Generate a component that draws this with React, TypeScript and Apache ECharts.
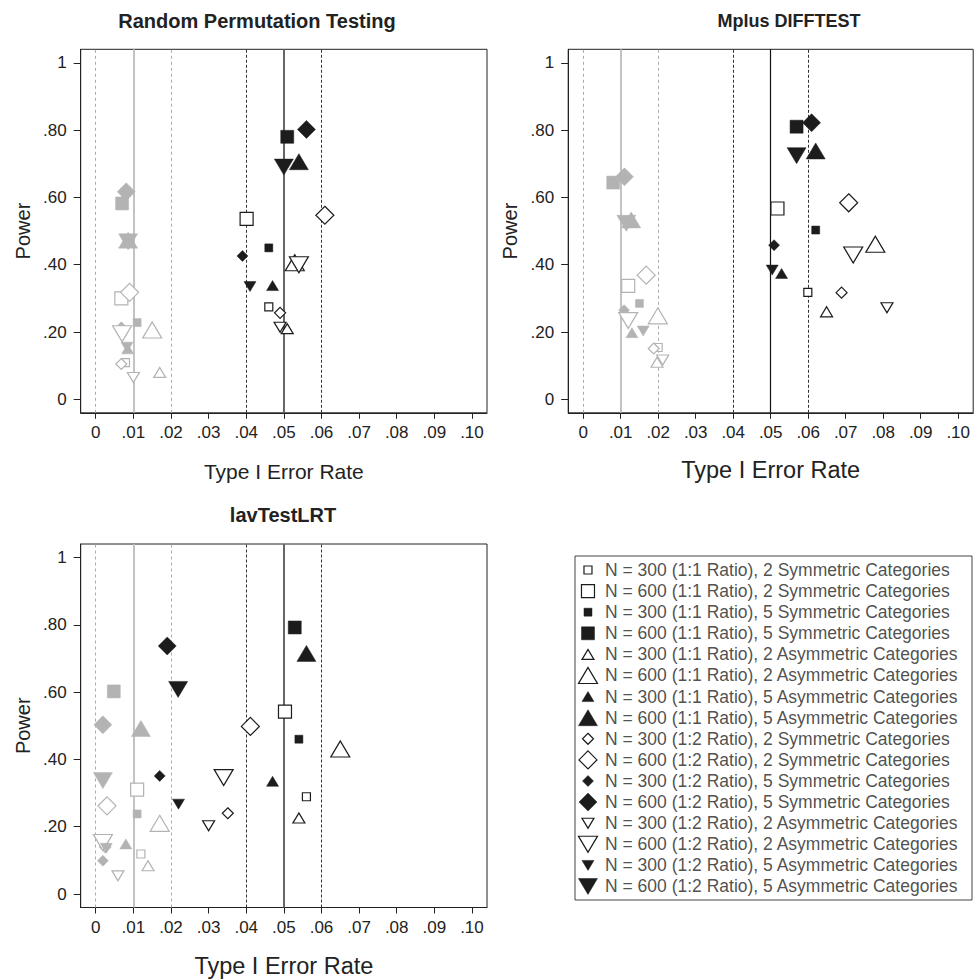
import React, { useEffect, useRef } from 'react';
import * as echarts from 'echarts';

const FONT = '"Liberation Sans", Arial, Helvetica, sans-serif';
const GRAY = '#b3b3b3';
const BLACK = '#1c1c1c';
const INK = '#222222';

// ---------- categories ----------
const conditionLabels = [
  'N = 300 (1:1 Ratio), 2 Symmetric Categories',
  'N = 600 (1:1 Ratio), 2 Symmetric Categories',
  'N = 300 (1:1 Ratio), 5 Symmetric Categories',
  'N = 600 (1:1 Ratio), 5 Symmetric Categories',
  'N = 300 (1:1 Ratio), 2 Asymmetric Categories',
  'N = 600 (1:1 Ratio), 2 Asymmetric Categories',
  'N = 300 (1:1 Ratio), 5 Asymmetric Categories',
  'N = 600 (1:1 Ratio), 5 Asymmetric Categories',
  'N = 300 (1:2 Ratio), 2 Symmetric Categories',
  'N = 600 (1:2 Ratio), 2 Symmetric Categories',
  'N = 300 (1:2 Ratio), 5 Symmetric Categories',
  'N = 600 (1:2 Ratio), 5 Symmetric Categories',
  'N = 300 (1:2 Ratio), 2 Asymmetric Categories',
  'N = 600 (1:2 Ratio), 2 Asymmetric Categories',
  'N = 300 (1:2 Ratio), 5 Asymmetric Categories',
  'N = 600 (1:2 Ratio), 5 Asymmetric Categories',
];
const conditionShapes = ['square', 'square', 'square', 'square', 'up', 'up', 'up', 'up', 'diamond', 'diamond', 'diamond', 'diamond', 'down', 'down', 'down', 'down'];
const conditionLarge = [false, true, false, true, false, true, false, true, false, true, false, true, false, true, false, true];
const conditionFilled = [false, false, true, true, false, false, true, true, false, false, true, true, false, false, true, true];

const panelTitles = ['Random Permutation Testing', 'Mplus DIFFTEST', 'lavTestLRT'];

// ---------- tick labels ----------
const xTicks = [0, 0.01, 0.02, 0.03, 0.04, 0.05, 0.06, 0.07, 0.08, 0.09, 0.1];
const yTicks = [0, 0.2, 0.4, 0.6, 0.8, 1];
const refLinesAlpha01 = [0.004, 0.01, 0.016];
const refLinesAlpha05 = [0.036, 0.05, 0.064];

// ---------- series values: [Type I error rate, power] per condition ----------
// Random Permutation Testing
const rptAlpha01: [number, number][] = [
  [0.0079, 0.109], [0.0068, 0.30], [0.011, 0.228], [0.007, 0.582],
  [0.017, 0.08], [0.015, 0.206], [0.0085, 0.15], [0.0086, 0.473],
  [0.0068, 0.105], [0.009, 0.318], [0.0068, 0.214], [0.0081, 0.617],
  [0.010, 0.065], [0.007, 0.195], [0.0083, 0.155], [0.0086, 0.468],
];
const rptAlpha05: [number, number][] = [
  [0.046, 0.275], [0.0401, 0.536], [0.046, 0.45], [0.0509, 0.78],
  [0.0509, 0.21], [0.0529, 0.406], [0.047, 0.338], [0.054, 0.706],
  [0.049, 0.257], [0.0609, 0.547], [0.039, 0.426], [0.056, 0.802],
  [0.049, 0.214], [0.054, 0.40], [0.041, 0.335], [0.050, 0.69],
];
// Mplus DIFFTEST
const mplusAlpha01: [number, number][] = [
  [0.020, 0.154], [0.012, 0.337], [0.015, 0.285], [0.008, 0.644],
  [0.0197, 0.11], [0.0199, 0.248], [0.013, 0.198], [0.0128, 0.533],
  [0.0188, 0.151], [0.0168, 0.369], [0.0109, 0.265], [0.011, 0.661],
  [0.0212, 0.117], [0.012, 0.234], [0.016, 0.203], [0.0115, 0.523],
];
const mplusAlpha05: [number, number][] = [
  [0.0599, 0.318], [0.0518, 0.567], [0.062, 0.503], [0.0569, 0.81],
  [0.0649, 0.26], [0.0779, 0.461], [0.0529, 0.374], [0.062, 0.738],
  [0.0689, 0.317], [0.0708, 0.584], [0.0509, 0.458], [0.0609, 0.822],
  [0.081, 0.272], [0.072, 0.429], [0.0504, 0.384], [0.0569, 0.724],
];
// lavTestLRT
const lavAlpha01: [number, number][] = [
  [0.012, 0.119], [0.011, 0.31], [0.011, 0.238], [0.0048, 0.602],
  [0.0139, 0.084], [0.017, 0.21], [0.008, 0.149], [0.012, 0.492],
  [0.0025, 0.14], [0.003, 0.262], [0.0019, 0.099], [0.0019, 0.503],
  [0.0059, 0.054], [0.0019, 0.153], [0.0028, 0.136], [0.0019, 0.337],
];
const lavAlpha05: [number, number][] = [
  [0.056, 0.289], [0.0503, 0.542], [0.054, 0.46], [0.0529, 0.792],
  [0.054, 0.226], [0.065, 0.431], [0.047, 0.335], [0.056, 0.715],
  [0.0351, 0.24], [0.0411, 0.498], [0.017, 0.351], [0.019, 0.737],
  [0.03, 0.203], [0.034, 0.346], [0.022, 0.267], [0.0219, 0.608],
];

const panelAlpha01 = [rptAlpha01, mplusAlpha01, lavAlpha01];
const panelAlpha05 = [rptAlpha05, mplusAlpha05, lavAlpha05];

// ---------- layout ----------
const grids = [
  { left: 80.7, top: 49.3, width: 406.3, height: 363.5 },
  { left: 568.2, top: 49.3, width: 405, height: 363.5 },
  { left: 80.7, top: 544, width: 406.3, height: 363.5 },
];
const xNameStyle = [
  { fontSize: 21, gap: 48 },
  { fontSize: 23.5, gap: 45 },
  { fontSize: 23.5, gap: 46 },
];
const titleLayout = [
  { cx: 257, top: 11, fontSize: 20 },
  { cx: 789, top: 12, fontSize: 18 },
  { cx: 283, top: 505, fontSize: 20 },
];
const legendBox = { left: 575, top: 556, width: 397, height: 344 };

function symbolFor(i: number) {
  const shape = conditionShapes[i];
  const big = conditionLarge[i];
  if (shape === 'square') return { symbol: 'rect', symbolSize: big ? 13 : 8, symbolRotate: 0 };
  if (shape === 'diamond') return { symbol: 'diamond', symbolSize: big ? 18 : 11, symbolRotate: 0 };
  if (shape === 'up') return { symbol: 'triangle', symbolSize: big ? [19, 16] : [12, 10], symbolRotate: 0 };
  return { symbol: 'triangle', symbolSize: big ? [19, 16] : [12, 10], symbolRotate: 180 };
}

function styleFor(i: number, color: string) {
  return conditionFilled[i]
    ? { color, borderColor: color, borderWidth: 0.5, opacity: 1 }
    : { color: '#ffffff', borderColor: color, borderWidth: 1.2, opacity: 1 };
}

function pointItems(values: [number, number][], color: string) {
  return values.map((v, i) => ({
    name: conditionLabels[i],
    value: v,
    ...symbolFor(i),
    itemStyle: styleFor(i, color),
  }));
}

const fmtX = (v: number) => (v === 0 ? '0' : v.toFixed(2).replace(/^0/, ''));
const fmtY = (v: number) => (v === 0 ? '0' : v === 1 ? '1' : v.toFixed(2).replace(/^0/, ''));

function buildOption(): any {
  const grid: any[] = grids.map((g) => ({
    ...g,
    show: true,
    borderColor: INK,
    borderWidth: 1,
    backgroundColor: 'transparent',
    containLabel: false,
  }));
  grid.push({ ...legendBox, show: true, borderColor: '#444', borderWidth: 1, backgroundColor: 'transparent' });

  const xAxis: any[] = grids.map((_, p) => ({
    type: 'value',
    gridIndex: p,
    min: -0.004,
    max: 0.104,
    name: 'Type I Error Rate',
    nameLocation: 'middle',
    nameGap: xNameStyle[p].gap,
    nameTextStyle: { fontSize: xNameStyle[p].fontSize, color: INK, fontFamily: FONT },
    axisLine: { show: true, onZero: false, lineStyle: { color: INK, width: 1 } },
    axisTick: { show: true, length: 6, inside: false, customValues: xTicks, lineStyle: { color: INK, width: 1 } },
    axisLabel: { customValues: xTicks, formatter: fmtX, fontSize: 17, color: INK, fontFamily: FONT, margin: 11 },
    splitLine: { show: false },
  }));
  xAxis.push({ type: 'value', gridIndex: 3, min: 0, max: 1, show: false });

  const yAxis: any[] = grids.map((_, p) => ({
    type: 'value',
    gridIndex: p,
    min: -0.04,
    max: 1.04,
    name: 'Power',
    nameLocation: 'middle',
    nameGap: 48,
    nameTextStyle: { fontSize: 20, color: INK, fontFamily: FONT },
    axisLine: { show: true, onZero: false, lineStyle: { color: INK, width: 1 } },
    axisTick: { show: true, length: 7, inside: false, customValues: yTicks, lineStyle: { color: INK, width: 1 } },
    axisLabel: { customValues: yTicks, formatter: fmtY, fontSize: 17, color: INK, fontFamily: FONT, margin: 14 },
    splitLine: { show: false },
  }));
  yAxis.push({ type: 'value', gridIndex: 3, min: -0.663, max: 15.64, inverse: true, show: false });

  const series: any[] = [];
  grids.forEach((_, p) => {
    const solid05 = p === 1 ? { color: '#111', width: 1.2 } : { color: '#666', width: 2 };
    const styles01 = [
      { color: '#aaaaaa', width: 1, type: [3, 3] },
      { color: '#bdbdbd', width: 1.8, type: 'solid' },
      { color: '#aaaaaa', width: 1, type: [3, 3] },
    ];
    const styles05 = [
      { color: '#333', width: 1, type: [3, 2] },
      { ...solid05, type: 'solid' },
      { color: '#333', width: 1, type: [3, 2] },
    ];
    series.push({
      type: 'scatter',
      name: 'reference lines ' + (p + 1),
      xAxisIndex: p,
      yAxisIndex: p,
      data: [],
      silent: true,
      z: 1,
      markLine: {
        silent: true,
        z: 1,
        symbol: ['none', 'none'],
        label: { show: false },
        emphasis: { disabled: true },
        data: [
          ...refLinesAlpha01.map((v, k) => ({ xAxis: v, lineStyle: styles01[k] })),
          ...refLinesAlpha05.map((v, k) => ({ xAxis: v, lineStyle: styles05[k] })),
        ],
      },
    });
    series.push({
      type: 'scatter',
      name: panelTitles[p] + ' (.01)',
      xAxisIndex: p,
      yAxisIndex: p,
      z: 3,
      data: pointItems(panelAlpha01[p], GRAY),
    });
    series.push({
      type: 'scatter',
      name: panelTitles[p] + ' (.05)',
      xAxisIndex: p,
      yAxisIndex: p,
      z: 4,
      data: pointItems(panelAlpha05[p], BLACK),
    });
  });

  // legend markers and texts (drawn in their own grid)
  series.push({
    type: 'scatter',
    name: 'legend markers',
    xAxisIndex: 3,
    yAxisIndex: 3,
    z: 5,
    silent: true,
    data: conditionLabels.map((label, i) => ({
      name: label,
      value: [0.0327, i],
      ...symbolFor(i),
      itemStyle: styleFor(i, BLACK),
    })),
  });
  series.push({
    type: 'scatter',
    name: 'legend texts',
    xAxisIndex: 3,
    yAxisIndex: 3,
    z: 5,
    silent: true,
    symbol: 'circle',
    symbolSize: 1,
    itemStyle: { color: 'rgba(0,0,0,0)' },
    label: {
      show: true,
      position: 'right',
      distance: 0,
      formatter: '{b}',
      fontSize: 17.5,
      color: INK,
      fontFamily: FONT,
    },
    data: conditionLabels.map((label, i) => ({ name: label, value: [0.0743, i] })),
  });

  const title = panelTitles.map((t, p) => ({
    text: t,
    left: titleLayout[p].cx,
    top: titleLayout[p].top,
    textAlign: 'center',
    padding: 0,
    textStyle: { fontSize: titleLayout[p].fontSize, fontWeight: 'bold', color: INK, fontFamily: FONT },
  }));

  return {
    animation: false,
    backgroundColor: '#ffffff',
    textStyle: { fontFamily: FONT },
    title,
    grid,
    xAxis,
    yAxis,
    series,
  };
}

export default function App() {
  const ref = useRef<HTMLDivElement>(null);
  useEffect(() => {
    if (!ref.current) return;
    const chart = echarts.init(ref.current, undefined, { renderer: 'svg' });
    chart.setOption(buildOption());
    return () => chart.dispose();
  }, []);
  return (
    <div
      ref={ref}
      style={{ position: 'absolute', left: 0, top: 0, width: 974, height: 980, background: '#fff' }}
    />
  );
}
